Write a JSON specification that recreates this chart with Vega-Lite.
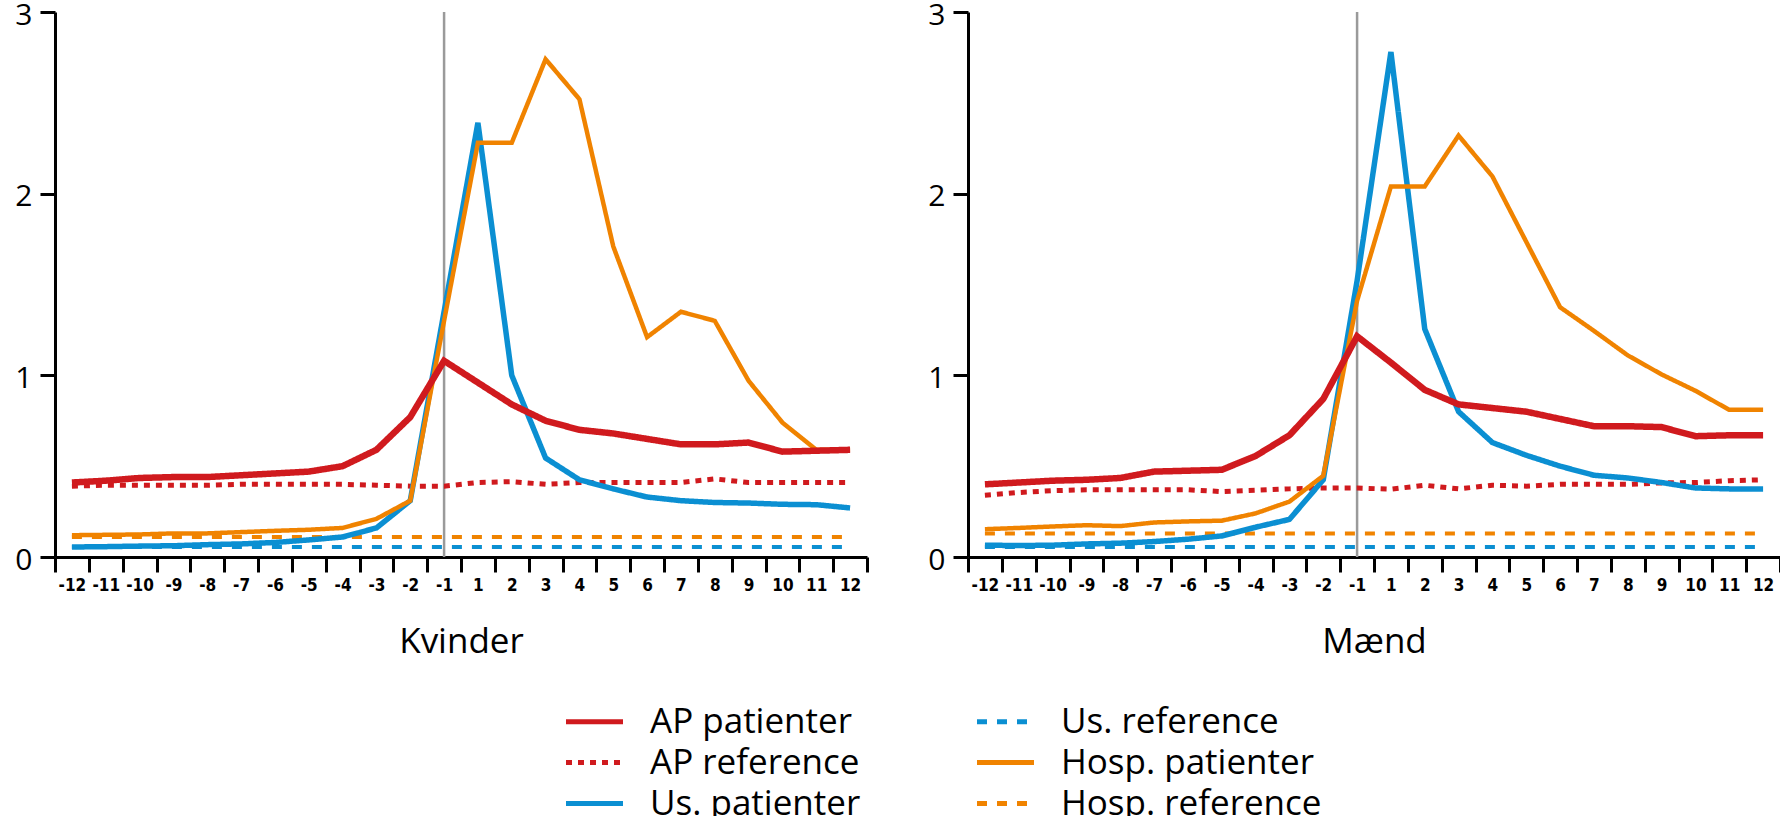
{
"$schema": "https://vega.github.io/schema/vega-lite/v6.json",
"padding": {"left": 14, "top": 0, "right": 0, "bottom": 0},
"background": "white",
"spacing": 58,
"data": {"values": [
{"sex":"Kvinder","series":"AP patienter","month":"-12","value":0.41},
{"sex":"Kvinder","series":"AP patienter","month":"-11","value":0.42},
{"sex":"Kvinder","series":"AP patienter","month":"-10","value":0.435},
{"sex":"Kvinder","series":"AP patienter","month":"-9","value":0.44},
{"sex":"Kvinder","series":"AP patienter","month":"-8","value":0.44},
{"sex":"Kvinder","series":"AP patienter","month":"-7","value":0.45},
{"sex":"Kvinder","series":"AP patienter","month":"-6","value":0.46},
{"sex":"Kvinder","series":"AP patienter","month":"-5","value":0.47},
{"sex":"Kvinder","series":"AP patienter","month":"-4","value":0.5},
{"sex":"Kvinder","series":"AP patienter","month":"-3","value":0.59},
{"sex":"Kvinder","series":"AP patienter","month":"-2","value":0.77},
{"sex":"Kvinder","series":"AP patienter","month":"-1","value":1.08},
{"sex":"Kvinder","series":"AP patienter","month":"1","value":0.96},
{"sex":"Kvinder","series":"AP patienter","month":"2","value":0.84},
{"sex":"Kvinder","series":"AP patienter","month":"3","value":0.75},
{"sex":"Kvinder","series":"AP patienter","month":"4","value":0.7},
{"sex":"Kvinder","series":"AP patienter","month":"5","value":0.68},
{"sex":"Kvinder","series":"AP patienter","month":"6","value":0.65},
{"sex":"Kvinder","series":"AP patienter","month":"7","value":0.62},
{"sex":"Kvinder","series":"AP patienter","month":"8","value":0.62},
{"sex":"Kvinder","series":"AP patienter","month":"9","value":0.63},
{"sex":"Kvinder","series":"AP patienter","month":"10","value":0.58},
{"sex":"Kvinder","series":"AP patienter","month":"11","value":0.585},
{"sex":"Kvinder","series":"AP patienter","month":"12","value":0.59},
{"sex":"Kvinder","series":"AP reference","month":"-12","value":0.39},
{"sex":"Kvinder","series":"AP reference","month":"-11","value":0.395},
{"sex":"Kvinder","series":"AP reference","month":"-10","value":0.395},
{"sex":"Kvinder","series":"AP reference","month":"-9","value":0.395},
{"sex":"Kvinder","series":"AP reference","month":"-8","value":0.395},
{"sex":"Kvinder","series":"AP reference","month":"-7","value":0.4},
{"sex":"Kvinder","series":"AP reference","month":"-6","value":0.4},
{"sex":"Kvinder","series":"AP reference","month":"-5","value":0.4},
{"sex":"Kvinder","series":"AP reference","month":"-4","value":0.4},
{"sex":"Kvinder","series":"AP reference","month":"-3","value":0.395},
{"sex":"Kvinder","series":"AP reference","month":"-2","value":0.39},
{"sex":"Kvinder","series":"AP reference","month":"-1","value":0.39},
{"sex":"Kvinder","series":"AP reference","month":"1","value":0.41},
{"sex":"Kvinder","series":"AP reference","month":"2","value":0.415},
{"sex":"Kvinder","series":"AP reference","month":"3","value":0.4},
{"sex":"Kvinder","series":"AP reference","month":"4","value":0.41},
{"sex":"Kvinder","series":"AP reference","month":"5","value":0.41},
{"sex":"Kvinder","series":"AP reference","month":"6","value":0.41},
{"sex":"Kvinder","series":"AP reference","month":"7","value":0.41},
{"sex":"Kvinder","series":"AP reference","month":"8","value":0.43},
{"sex":"Kvinder","series":"AP reference","month":"9","value":0.41},
{"sex":"Kvinder","series":"AP reference","month":"10","value":0.41},
{"sex":"Kvinder","series":"AP reference","month":"11","value":0.41},
{"sex":"Kvinder","series":"AP reference","month":"12","value":0.41},
{"sex":"Kvinder","series":"Us. patienter","month":"-12","value":0.055},
{"sex":"Kvinder","series":"Us. patienter","month":"-11","value":0.057},
{"sex":"Kvinder","series":"Us. patienter","month":"-10","value":0.06},
{"sex":"Kvinder","series":"Us. patienter","month":"-9","value":0.062},
{"sex":"Kvinder","series":"Us. patienter","month":"-8","value":0.068},
{"sex":"Kvinder","series":"Us. patienter","month":"-7","value":0.072},
{"sex":"Kvinder","series":"Us. patienter","month":"-6","value":0.08},
{"sex":"Kvinder","series":"Us. patienter","month":"-5","value":0.094},
{"sex":"Kvinder","series":"Us. patienter","month":"-4","value":0.11},
{"sex":"Kvinder","series":"Us. patienter","month":"-3","value":0.16},
{"sex":"Kvinder","series":"Us. patienter","month":"-2","value":0.31},
{"sex":"Kvinder","series":"Us. patienter","month":"-1","value":1.35},
{"sex":"Kvinder","series":"Us. patienter","month":"1","value":2.39},
{"sex":"Kvinder","series":"Us. patienter","month":"2","value":1.0},
{"sex":"Kvinder","series":"Us. patienter","month":"3","value":0.545},
{"sex":"Kvinder","series":"Us. patienter","month":"4","value":0.425},
{"sex":"Kvinder","series":"Us. patienter","month":"5","value":0.375},
{"sex":"Kvinder","series":"Us. patienter","month":"6","value":0.33},
{"sex":"Kvinder","series":"Us. patienter","month":"7","value":0.31},
{"sex":"Kvinder","series":"Us. patienter","month":"8","value":0.3},
{"sex":"Kvinder","series":"Us. patienter","month":"9","value":0.297},
{"sex":"Kvinder","series":"Us. patienter","month":"10","value":0.29},
{"sex":"Kvinder","series":"Us. patienter","month":"11","value":0.288},
{"sex":"Kvinder","series":"Us. patienter","month":"12","value":0.27},
{"sex":"Kvinder","series":"Us. reference","month":"-12","value":0.055},
{"sex":"Kvinder","series":"Us. reference","month":"-11","value":0.055},
{"sex":"Kvinder","series":"Us. reference","month":"-10","value":0.055},
{"sex":"Kvinder","series":"Us. reference","month":"-9","value":0.055},
{"sex":"Kvinder","series":"Us. reference","month":"-8","value":0.055},
{"sex":"Kvinder","series":"Us. reference","month":"-7","value":0.055},
{"sex":"Kvinder","series":"Us. reference","month":"-6","value":0.055},
{"sex":"Kvinder","series":"Us. reference","month":"-5","value":0.055},
{"sex":"Kvinder","series":"Us. reference","month":"-4","value":0.055},
{"sex":"Kvinder","series":"Us. reference","month":"-3","value":0.055},
{"sex":"Kvinder","series":"Us. reference","month":"-2","value":0.055},
{"sex":"Kvinder","series":"Us. reference","month":"-1","value":0.055},
{"sex":"Kvinder","series":"Us. reference","month":"1","value":0.055},
{"sex":"Kvinder","series":"Us. reference","month":"2","value":0.055},
{"sex":"Kvinder","series":"Us. reference","month":"3","value":0.055},
{"sex":"Kvinder","series":"Us. reference","month":"4","value":0.055},
{"sex":"Kvinder","series":"Us. reference","month":"5","value":0.055},
{"sex":"Kvinder","series":"Us. reference","month":"6","value":0.055},
{"sex":"Kvinder","series":"Us. reference","month":"7","value":0.055},
{"sex":"Kvinder","series":"Us. reference","month":"8","value":0.055},
{"sex":"Kvinder","series":"Us. reference","month":"9","value":0.055},
{"sex":"Kvinder","series":"Us. reference","month":"10","value":0.055},
{"sex":"Kvinder","series":"Us. reference","month":"11","value":0.055},
{"sex":"Kvinder","series":"Us. reference","month":"12","value":0.055},
{"sex":"Kvinder","series":"Hosp. patienter","month":"-12","value":0.12},
{"sex":"Kvinder","series":"Hosp. patienter","month":"-11","value":0.122},
{"sex":"Kvinder","series":"Hosp. patienter","month":"-10","value":0.124},
{"sex":"Kvinder","series":"Hosp. patienter","month":"-9","value":0.13},
{"sex":"Kvinder","series":"Hosp. patienter","month":"-8","value":0.13},
{"sex":"Kvinder","series":"Hosp. patienter","month":"-7","value":0.137},
{"sex":"Kvinder","series":"Hosp. patienter","month":"-6","value":0.144},
{"sex":"Kvinder","series":"Hosp. patienter","month":"-5","value":0.15},
{"sex":"Kvinder","series":"Hosp. patienter","month":"-4","value":0.16},
{"sex":"Kvinder","series":"Hosp. patienter","month":"-3","value":0.21},
{"sex":"Kvinder","series":"Hosp. patienter","month":"-2","value":0.31},
{"sex":"Kvinder","series":"Hosp. patienter","month":"-1","value":1.3},
{"sex":"Kvinder","series":"Hosp. patienter","month":"1","value":2.28},
{"sex":"Kvinder","series":"Hosp. patienter","month":"2","value":2.28},
{"sex":"Kvinder","series":"Hosp. patienter","month":"3","value":2.74},
{"sex":"Kvinder","series":"Hosp. patienter","month":"4","value":2.52},
{"sex":"Kvinder","series":"Hosp. patienter","month":"5","value":1.71},
{"sex":"Kvinder","series":"Hosp. patienter","month":"6","value":1.21},
{"sex":"Kvinder","series":"Hosp. patienter","month":"7","value":1.35},
{"sex":"Kvinder","series":"Hosp. patienter","month":"8","value":1.3},
{"sex":"Kvinder","series":"Hosp. patienter","month":"9","value":0.97},
{"sex":"Kvinder","series":"Hosp. patienter","month":"10","value":0.74},
{"sex":"Kvinder","series":"Hosp. patienter","month":"11","value":0.59},
{"sex":"Kvinder","series":"Hosp. patienter","month":"12","value":0.59},
{"sex":"Kvinder","series":"Hosp. reference","month":"-12","value":0.11},
{"sex":"Kvinder","series":"Hosp. reference","month":"-11","value":0.11},
{"sex":"Kvinder","series":"Hosp. reference","month":"-10","value":0.11},
{"sex":"Kvinder","series":"Hosp. reference","month":"-9","value":0.11},
{"sex":"Kvinder","series":"Hosp. reference","month":"-8","value":0.11},
{"sex":"Kvinder","series":"Hosp. reference","month":"-7","value":0.11},
{"sex":"Kvinder","series":"Hosp. reference","month":"-6","value":0.11},
{"sex":"Kvinder","series":"Hosp. reference","month":"-5","value":0.11},
{"sex":"Kvinder","series":"Hosp. reference","month":"-4","value":0.11},
{"sex":"Kvinder","series":"Hosp. reference","month":"-3","value":0.11},
{"sex":"Kvinder","series":"Hosp. reference","month":"-2","value":0.11},
{"sex":"Kvinder","series":"Hosp. reference","month":"-1","value":0.11},
{"sex":"Kvinder","series":"Hosp. reference","month":"1","value":0.11},
{"sex":"Kvinder","series":"Hosp. reference","month":"2","value":0.11},
{"sex":"Kvinder","series":"Hosp. reference","month":"3","value":0.11},
{"sex":"Kvinder","series":"Hosp. reference","month":"4","value":0.11},
{"sex":"Kvinder","series":"Hosp. reference","month":"5","value":0.11},
{"sex":"Kvinder","series":"Hosp. reference","month":"6","value":0.11},
{"sex":"Kvinder","series":"Hosp. reference","month":"7","value":0.11},
{"sex":"Kvinder","series":"Hosp. reference","month":"8","value":0.11},
{"sex":"Kvinder","series":"Hosp. reference","month":"9","value":0.11},
{"sex":"Kvinder","series":"Hosp. reference","month":"10","value":0.11},
{"sex":"Kvinder","series":"Hosp. reference","month":"11","value":0.11},
{"sex":"Kvinder","series":"Hosp. reference","month":"12","value":0.11},
{"sex":"Mænd","series":"AP patienter","month":"-12","value":0.4},
{"sex":"Mænd","series":"AP patienter","month":"-11","value":0.41},
{"sex":"Mænd","series":"AP patienter","month":"-10","value":0.42},
{"sex":"Mænd","series":"AP patienter","month":"-9","value":0.425},
{"sex":"Mænd","series":"AP patienter","month":"-8","value":0.435},
{"sex":"Mænd","series":"AP patienter","month":"-7","value":0.47},
{"sex":"Mænd","series":"AP patienter","month":"-6","value":0.475},
{"sex":"Mænd","series":"AP patienter","month":"-5","value":0.48},
{"sex":"Mænd","series":"AP patienter","month":"-4","value":0.556},
{"sex":"Mænd","series":"AP patienter","month":"-3","value":0.67},
{"sex":"Mænd","series":"AP patienter","month":"-2","value":0.87},
{"sex":"Mænd","series":"AP patienter","month":"-1","value":1.215},
{"sex":"Mænd","series":"AP patienter","month":"1","value":1.07},
{"sex":"Mænd","series":"AP patienter","month":"2","value":0.92},
{"sex":"Mænd","series":"AP patienter","month":"3","value":0.84},
{"sex":"Mænd","series":"AP patienter","month":"4","value":0.82},
{"sex":"Mænd","series":"AP patienter","month":"5","value":0.8},
{"sex":"Mænd","series":"AP patienter","month":"6","value":0.76},
{"sex":"Mænd","series":"AP patienter","month":"7","value":0.72},
{"sex":"Mænd","series":"AP patienter","month":"8","value":0.72},
{"sex":"Mænd","series":"AP patienter","month":"9","value":0.715},
{"sex":"Mænd","series":"AP patienter","month":"10","value":0.665},
{"sex":"Mænd","series":"AP patienter","month":"11","value":0.67},
{"sex":"Mænd","series":"AP patienter","month":"12","value":0.67},
{"sex":"Mænd","series":"AP reference","month":"-12","value":0.34},
{"sex":"Mænd","series":"AP reference","month":"-11","value":0.355},
{"sex":"Mænd","series":"AP reference","month":"-10","value":0.365},
{"sex":"Mænd","series":"AP reference","month":"-9","value":0.37},
{"sex":"Mænd","series":"AP reference","month":"-8","value":0.37},
{"sex":"Mænd","series":"AP reference","month":"-7","value":0.37},
{"sex":"Mænd","series":"AP reference","month":"-6","value":0.37},
{"sex":"Mænd","series":"AP reference","month":"-5","value":0.36},
{"sex":"Mænd","series":"AP reference","month":"-4","value":0.367},
{"sex":"Mænd","series":"AP reference","month":"-3","value":0.375},
{"sex":"Mænd","series":"AP reference","month":"-2","value":0.38},
{"sex":"Mænd","series":"AP reference","month":"-1","value":0.38},
{"sex":"Mænd","series":"AP reference","month":"1","value":0.373},
{"sex":"Mænd","series":"AP reference","month":"2","value":0.395},
{"sex":"Mænd","series":"AP reference","month":"3","value":0.375},
{"sex":"Mænd","series":"AP reference","month":"4","value":0.395},
{"sex":"Mænd","series":"AP reference","month":"5","value":0.39},
{"sex":"Mænd","series":"AP reference","month":"6","value":0.4},
{"sex":"Mænd","series":"AP reference","month":"7","value":0.4},
{"sex":"Mænd","series":"AP reference","month":"8","value":0.4},
{"sex":"Mænd","series":"AP reference","month":"9","value":0.408},
{"sex":"Mænd","series":"AP reference","month":"10","value":0.41},
{"sex":"Mænd","series":"AP reference","month":"11","value":0.42},
{"sex":"Mænd","series":"AP reference","month":"12","value":0.425},
{"sex":"Mænd","series":"Us. patienter","month":"-12","value":0.065},
{"sex":"Mænd","series":"Us. patienter","month":"-11","value":0.063},
{"sex":"Mænd","series":"Us. patienter","month":"-10","value":0.065},
{"sex":"Mænd","series":"Us. patienter","month":"-9","value":0.072},
{"sex":"Mænd","series":"Us. patienter","month":"-8","value":0.076},
{"sex":"Mænd","series":"Us. patienter","month":"-7","value":0.085},
{"sex":"Mænd","series":"Us. patienter","month":"-6","value":0.098},
{"sex":"Mænd","series":"Us. patienter","month":"-5","value":0.116},
{"sex":"Mænd","series":"Us. patienter","month":"-4","value":0.164},
{"sex":"Mænd","series":"Us. patienter","month":"-3","value":0.207},
{"sex":"Mænd","series":"Us. patienter","month":"-2","value":0.425},
{"sex":"Mænd","series":"Us. patienter","month":"-1","value":1.52},
{"sex":"Mænd","series":"Us. patienter","month":"1","value":2.78},
{"sex":"Mænd","series":"Us. patienter","month":"2","value":1.255},
{"sex":"Mænd","series":"Us. patienter","month":"3","value":0.8},
{"sex":"Mænd","series":"Us. patienter","month":"4","value":0.63},
{"sex":"Mænd","series":"Us. patienter","month":"5","value":0.56},
{"sex":"Mænd","series":"Us. patienter","month":"6","value":0.5},
{"sex":"Mænd","series":"Us. patienter","month":"7","value":0.45},
{"sex":"Mænd","series":"Us. patienter","month":"8","value":0.435},
{"sex":"Mænd","series":"Us. patienter","month":"9","value":0.41},
{"sex":"Mænd","series":"Us. patienter","month":"10","value":0.38},
{"sex":"Mænd","series":"Us. patienter","month":"11","value":0.375},
{"sex":"Mænd","series":"Us. patienter","month":"12","value":0.375},
{"sex":"Mænd","series":"Us. reference","month":"-12","value":0.055},
{"sex":"Mænd","series":"Us. reference","month":"-11","value":0.055},
{"sex":"Mænd","series":"Us. reference","month":"-10","value":0.055},
{"sex":"Mænd","series":"Us. reference","month":"-9","value":0.055},
{"sex":"Mænd","series":"Us. reference","month":"-8","value":0.055},
{"sex":"Mænd","series":"Us. reference","month":"-7","value":0.055},
{"sex":"Mænd","series":"Us. reference","month":"-6","value":0.055},
{"sex":"Mænd","series":"Us. reference","month":"-5","value":0.055},
{"sex":"Mænd","series":"Us. reference","month":"-4","value":0.055},
{"sex":"Mænd","series":"Us. reference","month":"-3","value":0.055},
{"sex":"Mænd","series":"Us. reference","month":"-2","value":0.055},
{"sex":"Mænd","series":"Us. reference","month":"-1","value":0.055},
{"sex":"Mænd","series":"Us. reference","month":"1","value":0.055},
{"sex":"Mænd","series":"Us. reference","month":"2","value":0.055},
{"sex":"Mænd","series":"Us. reference","month":"3","value":0.055},
{"sex":"Mænd","series":"Us. reference","month":"4","value":0.055},
{"sex":"Mænd","series":"Us. reference","month":"5","value":0.055},
{"sex":"Mænd","series":"Us. reference","month":"6","value":0.055},
{"sex":"Mænd","series":"Us. reference","month":"7","value":0.055},
{"sex":"Mænd","series":"Us. reference","month":"8","value":0.055},
{"sex":"Mænd","series":"Us. reference","month":"9","value":0.055},
{"sex":"Mænd","series":"Us. reference","month":"10","value":0.055},
{"sex":"Mænd","series":"Us. reference","month":"11","value":0.055},
{"sex":"Mænd","series":"Us. reference","month":"12","value":0.055},
{"sex":"Mænd","series":"Hosp. patienter","month":"-12","value":0.153},
{"sex":"Mænd","series":"Hosp. patienter","month":"-11","value":0.16},
{"sex":"Mænd","series":"Hosp. patienter","month":"-10","value":0.168},
{"sex":"Mænd","series":"Hosp. patienter","month":"-9","value":0.175},
{"sex":"Mænd","series":"Hosp. patienter","month":"-8","value":0.17},
{"sex":"Mænd","series":"Hosp. patienter","month":"-7","value":0.19},
{"sex":"Mænd","series":"Hosp. patienter","month":"-6","value":0.196},
{"sex":"Mænd","series":"Hosp. patienter","month":"-5","value":0.2},
{"sex":"Mænd","series":"Hosp. patienter","month":"-4","value":0.24},
{"sex":"Mænd","series":"Hosp. patienter","month":"-3","value":0.305},
{"sex":"Mænd","series":"Hosp. patienter","month":"-2","value":0.447},
{"sex":"Mænd","series":"Hosp. patienter","month":"-1","value":1.41},
{"sex":"Mænd","series":"Hosp. patienter","month":"1","value":2.04},
{"sex":"Mænd","series":"Hosp. patienter","month":"2","value":2.04},
{"sex":"Mænd","series":"Hosp. patienter","month":"3","value":2.32},
{"sex":"Mænd","series":"Hosp. patienter","month":"4","value":2.095},
{"sex":"Mænd","series":"Hosp. patienter","month":"5","value":1.735},
{"sex":"Mænd","series":"Hosp. patienter","month":"6","value":1.375},
{"sex":"Mænd","series":"Hosp. patienter","month":"7","value":1.245},
{"sex":"Mænd","series":"Hosp. patienter","month":"8","value":1.11},
{"sex":"Mænd","series":"Hosp. patienter","month":"9","value":1.005},
{"sex":"Mænd","series":"Hosp. patienter","month":"10","value":0.915},
{"sex":"Mænd","series":"Hosp. patienter","month":"11","value":0.81},
{"sex":"Mænd","series":"Hosp. patienter","month":"12","value":0.81},
{"sex":"Mænd","series":"Hosp. reference","month":"-12","value":0.13},
{"sex":"Mænd","series":"Hosp. reference","month":"-11","value":0.13},
{"sex":"Mænd","series":"Hosp. reference","month":"-10","value":0.13},
{"sex":"Mænd","series":"Hosp. reference","month":"-9","value":0.13},
{"sex":"Mænd","series":"Hosp. reference","month":"-8","value":0.13},
{"sex":"Mænd","series":"Hosp. reference","month":"-7","value":0.13},
{"sex":"Mænd","series":"Hosp. reference","month":"-6","value":0.13},
{"sex":"Mænd","series":"Hosp. reference","month":"-5","value":0.13},
{"sex":"Mænd","series":"Hosp. reference","month":"-4","value":0.13},
{"sex":"Mænd","series":"Hosp. reference","month":"-3","value":0.13},
{"sex":"Mænd","series":"Hosp. reference","month":"-2","value":0.13},
{"sex":"Mænd","series":"Hosp. reference","month":"-1","value":0.13},
{"sex":"Mænd","series":"Hosp. reference","month":"1","value":0.13},
{"sex":"Mænd","series":"Hosp. reference","month":"2","value":0.13},
{"sex":"Mænd","series":"Hosp. reference","month":"3","value":0.13},
{"sex":"Mænd","series":"Hosp. reference","month":"4","value":0.13},
{"sex":"Mænd","series":"Hosp. reference","month":"5","value":0.13},
{"sex":"Mænd","series":"Hosp. reference","month":"6","value":0.13},
{"sex":"Mænd","series":"Hosp. reference","month":"7","value":0.13},
{"sex":"Mænd","series":"Hosp. reference","month":"8","value":0.13},
{"sex":"Mænd","series":"Hosp. reference","month":"9","value":0.13},
{"sex":"Mænd","series":"Hosp. reference","month":"10","value":0.13},
{"sex":"Mænd","series":"Hosp. reference","month":"11","value":0.13},
{"sex":"Mænd","series":"Hosp. reference","month":"12","value":0.13}
]},
"config": {
  "view": {"stroke": null},
  "font": "Open Sans",
  "axisX": {"tickBand": "extent", "tickSize": 15, "tickWidth": 3, "tickColor": "black", "domainColor": "black", "domainWidth": 3, "labelAngle": 0, "labelFont": "DejaVu Sans Condensed", "labelFontSize": 17, "labelFontWeight": "bold", "labelColor": "black", "labelPadding": 5, "titleFont": "Open Sans", "titleFontSize": 35, "titleFontWeight": "normal", "titleColor": "black", "titlePadding": 31, "grid": false},
  "axisY": {"tickSize": 15, "tickWidth": 3, "tickColor": "black", "domainColor": "black", "domainWidth": 3, "labelFont": "Open Sans", "labelFontSize": 30, "labelColor": "black", "labelPadding": 8, "labelOffset": 3, "grid": false, "format": "d"},
  "legend": {"labelFont": "Open Sans", "labelFontSize": 35, "labelColor": "black", "symbolType": "M-1.5,0L1.5,0", "symbolSize": 1444, "symbolStrokeWidth": 5, "labelOffset": 34, "rowPadding": 1, "columnPadding": 106, "labelLimit": 0}
},
"hconcat": [
 {
  "width": 812, "height": 545,
  "transform": [{"filter": "datum.sex === 'Kvinder'"}],
  "layer": [
   {"transform": [{"filter": "datum.series === 'AP patienter' && datum.month === '-1'"}],
    "mark": {"type": "rule", "color": "#9a9a9a", "strokeWidth": 2.5},
    "encoding": {"x": {"field": "month", "type": "ordinal", "sort": ["-12","-11","-10","-9","-8","-7","-6","-5","-4","-3","-2","-1","1","2","3","4","5","6","7","8","9","10","11","12"], "scale": {"type": "band", "paddingInner": 0, "paddingOuter": 0}, "title": "Kvinder"}}},
   {"transform": [{"filter": "datum.series === 'Us. reference' || datum.series === 'Hosp. reference'"}],
    "mark": {"type": "line", "strokeWidth": 4},
    "encoding": {
      "x": {"field": "month", "type": "ordinal", "sort": ["-12","-11","-10","-9","-8","-7","-6","-5","-4","-3","-2","-1","1","2","3","4","5","6","7","8","9","10","11","12"], "scale": {"type": "band", "paddingInner": 0, "paddingOuter": 0}, "title": "Kvinder"},
      "y": {"field": "value", "type": "quantitative", "scale": {"domain": [0, 3], "nice": false}, "axis": {"values": [0, 1, 2, 3], "title": null}},
      "color": {"field": "series", "type": "nominal", "scale": {"domain": ["AP patienter","AP reference","Us. patienter","Us. reference","Hosp. patienter","Hosp. reference"], "range": ["#d01a1e","#d01a1e","#0b8fd2","#0b8fd2","#f08300","#f08300"]}, "legend": {"title": null, "orient": "none", "legendX": 518, "legendY": 688, "columns": 2}},
      "strokeDash": {"field": "series", "type": "nominal", "scale": {"domain": ["AP patienter","AP reference","Us. patienter","Us. reference","Hosp. patienter","Hosp. reference"], "range": [[1,0],[6,6],[1,0],[10,10],[1,0],[10,10]]}, "legend": {"title": null, "orient": "none", "legendX": 518, "legendY": 688, "columns": 2}}
    }},
   {"transform": [{"filter": "datum.series === 'AP reference'"}],
    "mark": {"type": "line", "strokeWidth": 5},
    "encoding": {
      "x": {"field": "month", "type": "ordinal", "sort": ["-12","-11","-10","-9","-8","-7","-6","-5","-4","-3","-2","-1","1","2","3","4","5","6","7","8","9","10","11","12"], "scale": {"type": "band", "paddingInner": 0, "paddingOuter": 0}, "title": "Kvinder"},
      "y": {"field": "value", "type": "quantitative"},
      "color": {"field": "series", "type": "nominal"},
      "strokeDash": {"field": "series", "type": "nominal"}
    }},
   {"transform": [{"filter": "datum.series === 'Us. patienter'"}],
    "mark": {"type": "line", "strokeWidth": 5.5},
    "encoding": {
      "x": {"field": "month", "type": "ordinal", "sort": ["-12","-11","-10","-9","-8","-7","-6","-5","-4","-3","-2","-1","1","2","3","4","5","6","7","8","9","10","11","12"], "scale": {"type": "band", "paddingInner": 0, "paddingOuter": 0}, "title": "Kvinder"},
      "y": {"field": "value", "type": "quantitative"},
      "color": {"field": "series", "type": "nominal"},
      "strokeDash": {"field": "series", "type": "nominal"}
    }},
   {"transform": [{"filter": "datum.series === 'Hosp. patienter'"}],
    "mark": {"type": "line", "strokeWidth": 4.5},
    "encoding": {
      "x": {"field": "month", "type": "ordinal", "sort": ["-12","-11","-10","-9","-8","-7","-6","-5","-4","-3","-2","-1","1","2","3","4","5","6","7","8","9","10","11","12"], "scale": {"type": "band", "paddingInner": 0, "paddingOuter": 0}, "title": "Kvinder"},
      "y": {"field": "value", "type": "quantitative"},
      "color": {"field": "series", "type": "nominal"},
      "strokeDash": {"field": "series", "type": "nominal"}
    }},
   {"transform": [{"filter": "datum.series === 'AP patienter'"}],
    "mark": {"type": "line", "strokeWidth": 6.5},
    "encoding": {
      "x": {"field": "month", "type": "ordinal", "sort": ["-12","-11","-10","-9","-8","-7","-6","-5","-4","-3","-2","-1","1","2","3","4","5","6","7","8","9","10","11","12"], "scale": {"type": "band", "paddingInner": 0, "paddingOuter": 0}, "title": "Kvinder"},
      "y": {"field": "value", "type": "quantitative"},
      "color": {"field": "series", "type": "nominal"},
      "strokeDash": {"field": "series", "type": "nominal"}
    }}
  ]
 },
 {
  "width": 812, "height": 545,
  "transform": [{"filter": "datum.sex === 'Mænd'"}],
  "layer": [
   {"transform": [{"filter": "datum.series === 'AP patienter' && datum.month === '-1'"}],
    "mark": {"type": "rule", "color": "#9a9a9a", "strokeWidth": 2.5},
    "encoding": {"x": {"field": "month", "type": "ordinal", "sort": ["-12","-11","-10","-9","-8","-7","-6","-5","-4","-3","-2","-1","1","2","3","4","5","6","7","8","9","10","11","12"], "scale": {"type": "band", "paddingInner": 0, "paddingOuter": 0}, "title": "Mænd"}}},
   {"transform": [{"filter": "datum.series === 'Us. reference' || datum.series === 'Hosp. reference'"}],
    "mark": {"type": "line", "strokeWidth": 4},
    "encoding": {
      "x": {"field": "month", "type": "ordinal", "sort": ["-12","-11","-10","-9","-8","-7","-6","-5","-4","-3","-2","-1","1","2","3","4","5","6","7","8","9","10","11","12"], "scale": {"type": "band", "paddingInner": 0, "paddingOuter": 0}, "title": "Mænd"},
      "y": {"field": "value", "type": "quantitative", "scale": {"domain": [0, 3], "nice": false}, "axis": {"values": [0, 1, 2, 3], "title": null}},
      "color": {"field": "series", "type": "nominal"},
      "strokeDash": {"field": "series", "type": "nominal"}
    }},
   {"transform": [{"filter": "datum.series === 'AP reference'"}],
    "mark": {"type": "line", "strokeWidth": 5},
    "encoding": {
      "x": {"field": "month", "type": "ordinal", "sort": ["-12","-11","-10","-9","-8","-7","-6","-5","-4","-3","-2","-1","1","2","3","4","5","6","7","8","9","10","11","12"], "scale": {"type": "band", "paddingInner": 0, "paddingOuter": 0}, "title": "Mænd"},
      "y": {"field": "value", "type": "quantitative"},
      "color": {"field": "series", "type": "nominal"},
      "strokeDash": {"field": "series", "type": "nominal"}
    }},
   {"transform": [{"filter": "datum.series === 'Us. patienter'"}],
    "mark": {"type": "line", "strokeWidth": 5.5},
    "encoding": {
      "x": {"field": "month", "type": "ordinal", "sort": ["-12","-11","-10","-9","-8","-7","-6","-5","-4","-3","-2","-1","1","2","3","4","5","6","7","8","9","10","11","12"], "scale": {"type": "band", "paddingInner": 0, "paddingOuter": 0}, "title": "Mænd"},
      "y": {"field": "value", "type": "quantitative"},
      "color": {"field": "series", "type": "nominal"},
      "strokeDash": {"field": "series", "type": "nominal"}
    }},
   {"transform": [{"filter": "datum.series === 'Hosp. patienter'"}],
    "mark": {"type": "line", "strokeWidth": 4.5},
    "encoding": {
      "x": {"field": "month", "type": "ordinal", "sort": ["-12","-11","-10","-9","-8","-7","-6","-5","-4","-3","-2","-1","1","2","3","4","5","6","7","8","9","10","11","12"], "scale": {"type": "band", "paddingInner": 0, "paddingOuter": 0}, "title": "Mænd"},
      "y": {"field": "value", "type": "quantitative"},
      "color": {"field": "series", "type": "nominal"},
      "strokeDash": {"field": "series", "type": "nominal"}
    }},
   {"transform": [{"filter": "datum.series === 'AP patienter'"}],
    "mark": {"type": "line", "strokeWidth": 6.5},
    "encoding": {
      "x": {"field": "month", "type": "ordinal", "sort": ["-12","-11","-10","-9","-8","-7","-6","-5","-4","-3","-2","-1","1","2","3","4","5","6","7","8","9","10","11","12"], "scale": {"type": "band", "paddingInner": 0, "paddingOuter": 0}, "title": "Mænd"},
      "y": {"field": "value", "type": "quantitative"},
      "color": {"field": "series", "type": "nominal"},
      "strokeDash": {"field": "series", "type": "nominal"}
    }}
  ]
 }
]
}
